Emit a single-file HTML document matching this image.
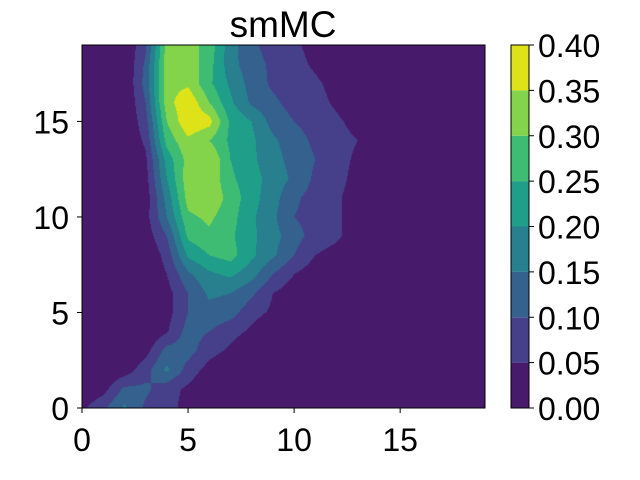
<!DOCTYPE html>
<html><head><meta charset="utf-8"><style>
html,body{margin:0;padding:0;background:#fff;}
#wrap{position:relative;width:640px;height:480px;overflow:hidden;font-family:"Liberation Sans",sans-serif;}
canvas{position:absolute;left:0;top:0;}
svg{position:absolute;left:0;top:0;}
</style></head><body>
<div id="wrap">
<canvas id="cv" width="640" height="480"></canvas>
<svg id="sv" width="640" height="480"></svg>
</div>
<script>
const levels=[0,0.05,0.10,0.15,0.20,0.25,0.30,0.35,0.40];
const levelColors=["#481a6c","#46408a","#34618d","#287f8e","#1f9e89","#3fbc73","#84d44b","#dde318"];
const xTicks=[0,5,10,15];
const yTicks=[0,5,10,15];
const cbTicks=["0.00","0.05","0.10","0.15","0.20","0.25","0.30","0.35","0.40"];
// rows indexed by y (0..19), columns x (0..19)
const gridRows=[
/*0*/ [0.04,0.09,0.16,0.09,0.07,0.03,0,0,0,0,0,0,0,0,0,0,0,0,0,0],
/*1*/ [0,0.03,0.11,0.11,0.07,0.04,0,0,0,0,0,0,0,0,0,0,0,0,0,0],
/*2*/ [0,0,0.02,0.08,0.16,0.08,0.03,0,0,0,0,0,0,0,0,0,0,0,0,0],
/*3*/ [0,0,0,0.03,0.12,0.12,0.07,0.04,0,0,0,0,0,0,0,0,0,0,0,0],
/*4*/ [0,0,0,0,0.045,0.12,0.10,0.07,0.04,0,0,0,0,0,0,0,0,0,0,0],
/*5*/ [0,0,0,0,0.03,0.10,0.13,0.12,0.07,0.04,0,0,0,0,0,0,0,0,0,0],
/*6*/ [0,0,0,0,0.03,0.10,0.16,0.15,0.11,0.05,0.02,0,0,0,0,0,0,0,0,0],
/*7*/ [0,0,0,0,0.05,0.14,0.19,0.21,0.17,0.10,0.05,0.02,0,0,0,0,0,0,0,0],
/*8*/ [0,0,0,0,0.07,0.21,0.25,0.27,0.21,0.16,0.10,0.05,0.03,0,0,0,0,0,0,0],
/*9*/ [0,0,0,0.02,0.10,0.26,0.29,0.26,0.21,0.17,0.12,0.08,0.06,0.02,0,0,0,0,0,0],
/*10*/[0,0,0,0.03,0.15,0.29,0.31,0.27,0.21,0.16,0.10,0.08,0.06,0.02,0,0,0,0,0,0],
/*11*/[0,0,0,0.02,0.17,0.32,0.34,0.28,0.22,0.17,0.11,0.08,0.06,0.02,0,0,0,0,0,0],
/*12*/[0,0,0,0.03,0.20,0.33,0.34,0.26,0.22,0.18,0.14,0.09,0.07,0.03,0,0,0,0,0,0],
/*13*/[0,0,0,0.04,0.22,0.32,0.351,0.25,0.21,0.17,0.13,0.10,0.07,0.04,0,0,0,0,0,0],
/*14*/[0,0,0,0.06,0.27,0.34,0.30,0.24,0.21,0.16,0.12,0.09,0.07,0.05,0,0,0,0,0,0],
/*15*/[0,0,0,0.08,0.30,0.39,0.37,0.24,0.20,0.13,0.10,0.08,0.06,0.03,0,0,0,0,0,0],
/*16*/[0,0,0,0.10,0.33,0.39,0.30,0.21,0.14,0.11,0.08,0.07,0.04,0,0,0,0,0,0,0],
/*17*/[0,0,0,0.12,0.33,0.34,0.26,0.19,0.13,0.09,0.08,0.06,0.03,0,0,0,0,0,0,0],
/*18*/[0,0,0,0.11,0.33,0.33,0.27,0.17,0.12,0.09,0.07,0.04,0,0,0,0,0,0,0,0],
/*19*/[0,0,0,0.09,0.32,0.32,0.28,0.17,0.11,0.08,0.06,0.03,0,0,0,0,0,0,0,0]
];
const X0=82,X1=485,Y0=408,Y1=45,NX=19,NY=19;
const sx=v=>X0+(X1-X0)*v/NX;
const sy=v=>Y0-(Y0-Y1)*v/NY;
function colorFor(v){let i=0;for(let k=0;k<levels.length-1;k++){if(v>=levels[k])i=k;}return levelColors[Math.min(i,levelColors.length-1)];}
const cv=document.getElementById('cv');const ctx=cv.getContext('2d');
for(let py=Y1;py<Y0;py++){for(let px=X0;px<X1;px++){
 const gx=(px+0.5-X0)/(X1-X0)*NX, gy=(Y0-(py+0.5))/(Y0-Y1)*NY;
 const i=Math.min(Math.floor(gx),NX-1), j=Math.min(Math.floor(gy),NY-1);
 const fx=gx-i, fy=gy-j;
 const v=gridRows[j][i]*(1-fx)*(1-fy)+gridRows[j][i+1]*fx*(1-fy)+gridRows[j+1][i]*(1-fx)*fy+gridRows[j+1][i+1]*fx*fy;
 ctx.fillStyle=colorFor(v);ctx.fillRect(px,py,1,1);
}}
const NS='http://www.w3.org/2000/svg';const sv=document.getElementById('sv');
function mk(t,a,txt){const e=document.createElementNS(NS,t);for(const k in a)e.setAttribute(k,a[k]);if(txt!==undefined)e.textContent=txt;sv.appendChild(e);return e;}
let e;
e=mk('rect',{x:X0,y:Y1,width:X1-X0,height:Y0-Y1,fill:'none',stroke:'#000','stroke-width':1});


e=mk('text',{x:283,y:37,'font-size':37,'text-anchor':'middle',fill:'#000'},'smMC');


xTicks.forEach(t=>{
 e=mk('line',{x1:sx(t),x2:sx(t),y1:Y0,y2:Y0+5,stroke:'#000'});
 
 
 e=mk('text',{x:sx(t),y:Y0+43,'font-size':32,'text-anchor':'middle'},String(t));
 
 
});
yTicks.forEach(t=>{
 e=mk('line',{x1:X0-5,x2:X0,y1:sy(t),y2:sy(t),stroke:'#000'});
 
 
 e=mk('text',{x:X0-13,y:sy(t)+12,'font-size':32,'text-anchor':'end'},String(t));
 
 
});
const CB0=511,CB1=529;const cbY=v=>Y0-(Y0-Y1)*(v-levels[0])/(levels[levels.length-1]-levels[0]);
for(let k=0;k<levelColors.length;k++){
 e=mk('rect',{x:CB0,y:cbY(levels[k+1]),width:CB1-CB0,height:cbY(levels[k])-cbY(levels[k+1]),fill:levelColors[k]});
 
 
}
e=mk('rect',{x:CB0,y:Y1,width:CB1-CB0,height:Y0-Y1,fill:'none',stroke:'#000'});


cbTicks.forEach((t,k)=>{
 const y=cbY(levels[k]);
 e=mk('line',{x1:CB1,x2:CB1+5,y1:y,y2:y,stroke:'#000'});
 
 
 e=mk('text',{x:CB1+9,y:y+12,'font-size':32},t);
 
 
});
</script>
</body></html>
